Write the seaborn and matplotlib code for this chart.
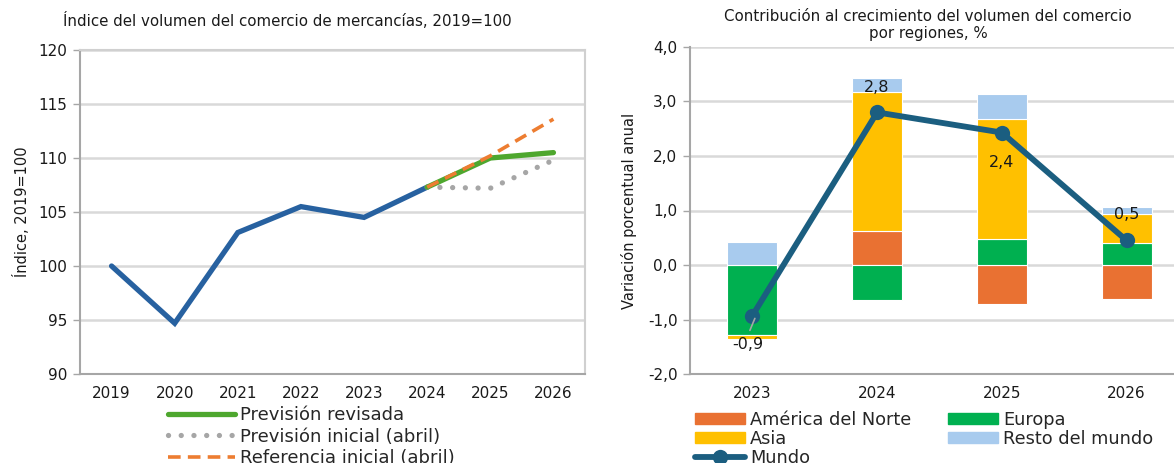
import matplotlib
matplotlib.use("Agg")
import matplotlib.pyplot as plt
import seaborn as sns
import numpy as np
import pandas as pd
from matplotlib.lines import Line2D
from matplotlib.patches import Patch
from matplotlib.ticker import FuncFormatter

# ---------------- data ----------------
years_left = ["2019", "2020", "2021", "2022", "2023", "2024", "2025", "2026"]
historico = [100.0, 94.7, 103.1, 105.5, 104.5, 107.3]
prev_revisada = [107.3, 110.0, 110.5]
prev_inicial = [107.3, 107.2, 109.8]
ref_inicial = [107.3, 110.2, 113.6]

years_right = ["2023", "2024", "2025", "2026"]
america_norte = [0.0, 0.62, -0.71, -0.62]
europa = [-1.28, -0.65, 0.47, 0.41]
asia = [-0.07, 2.55, 2.20, 0.52]
resto = [0.42, 0.27, 0.47, 0.14]
mundo = [-0.93, 2.80, 2.43, 0.45]
mundo_labels = ["-0,9", "2,8", "2,4", "0,5"]

# ---------------- style ----------------
sns.set_theme(style="white")
plt.rcParams["font.family"] = ["DejaVu Sans"]

fig = plt.figure(figsize=(11.74, 4.63), dpi=100)
axL = fig.add_axes([80/1174, 1-374/463, 505/1174, 324/463])
axR = fig.add_axes([690/1174, 1-374/463, 484/1174, 327/463])

grid_c = "#D9D9D9"
spine_c = "#A6A6A6"

# ---------------- left chart ----------------
xl = np.arange(len(years_left))
dfh = pd.DataFrame({"x": xl[:6], "y": historico})
sns.lineplot(data=dfh, x="x", y="y", ax=axL, color="#2761A0", lw=3.8,
             solid_capstyle="round", solid_joinstyle="miter")
dfi = pd.DataFrame({"x": xl[5:], "y": prev_inicial})
sns.lineplot(data=dfi, x="x", y="y", ax=axL, color="#A6A6A6", lw=3.8,
             linestyle=(0, (0.01, 2.4)), dash_capstyle="round")
dfr = pd.DataFrame({"x": xl[5:], "y": prev_revisada})
sns.lineplot(data=dfr, x="x", y="y", ax=axL, color="#4EA72E", lw=3.8,
             solid_capstyle="round")
dfe = pd.DataFrame({"x": xl[5:], "y": ref_inicial})
sns.lineplot(data=dfe, x="x", y="y", ax=axL, color="#ED7D31", lw=2.6,
             linestyle=(0, (3.5, 2.0)))

axL.set_xlim(-0.5, 7.5)
axL.set_ylim(90, 120)
axL.set_yticks(range(90, 121, 5))
axL.set_xticks(xl)
axL.set_xticklabels(years_left)
axL.set_xlabel("")
axL.set_ylabel("Índice, 2019=100", fontsize=10.5, color="#1a1a1a", labelpad=6)
axL.grid(axis="y", color=grid_c, lw=1.8)
axL.set_axisbelow(True)
for s in axL.spines.values():
    s.set_color("#D0D0D0")
    s.set_linewidth(1.5)
axL.spines["left"].set_color(spine_c)
axL.spines["bottom"].set_color(spine_c)
axL.tick_params(axis="y", length=5, width=1, color=spine_c, labelsize=11, pad=4,
                labelcolor="#1a1a1a", left=True)
axL.tick_params(axis="x", length=0, labelsize=11, pad=9, labelcolor="#1a1a1a")

fig.text(287/1174, 1-21/463, "Índice del volumen del comercio de mercancías, 2019=100",
         ha="center", va="center", fontsize=10.8, color="#1a1a1a")

legL = [Line2D([0], [0], color="#4EA72E", lw=3.8, solid_capstyle="round"),
        Line2D([0], [0], color="#A6A6A6", lw=3.8, linestyle=(0, (0.01, 2.4)),
               dash_capstyle="round"),
        Line2D([0], [0], color="#ED7D31", lw=2.6, linestyle=(0, (3.5, 2.0)))]
fig.legend(legL, ["Previsión revisada", "Previsión inicial (abril)", "Referencia inicial (abril)"],
           loc="upper left", bbox_to_anchor=(168/1174, 1-406/463), frameon=False,
           fontsize=13, handlelength=3.7, handletextpad=0.3, labelspacing=0.2,
           borderpad=0, borderaxespad=0)

# ---------------- right chart ----------------
series = [("América del Norte", america_norte, "#E97132"),
          ("Europa", europa, "#00B050"),
          ("Asia", asia, "#FFC000"),
          ("Resto del mundo", resto, "#A8CBEE")]
pos_base = np.zeros(4)
neg_base = np.zeros(4)
for name, vals, col in series:
    vals = np.array(vals)
    bottoms = np.where(vals >= 0, pos_base, neg_base)
    df = pd.DataFrame({"year": years_right, "v": vals})
    sns.barplot(data=df, x="year", y="v", ax=axR, color=col, width=0.4,
                bottom=bottoms, edgecolor="white", linewidth=0.8, saturation=1)
    pos_base = pos_base + np.where(vals > 0, vals, 0)
    neg_base = neg_base + np.where(vals < 0, vals, 0)

xr = np.arange(4)
dfm = pd.DataFrame({"x": xr, "y": mundo})
sns.lineplot(data=dfm, x="x", y="y", ax=axR, color="#1B5E80", lw=4.2,
             marker="o", markersize=11, markeredgewidth=0)

# leader line for first label
axR.plot([xr[0] - 0.02, xr[0] + 0.02], [-1.2, -0.98], color="#A6A6A6", lw=1.2, zorder=6)
offsets = [(-0.04, -1.45), (0.0, 3.25), (0.0, 1.88), (0.0, 0.92)]
for i, lab in enumerate(mundo_labels):
    axR.text(xr[i] + offsets[i][0], offsets[i][1], lab, ha="center", va="center",
             fontsize=11.5, color="#1a1a1a", zorder=7)

axR.set_xlim(-0.5, 3.38)
axR.set_ylim(-2.0, 4.0)
axR.set_yticks(np.arange(-2, 4.01, 1))
axR.yaxis.set_major_formatter(FuncFormatter(lambda v, p: f"{v:.1f}".replace(".", ",")))
axR.set_xlabel("")
axR.set_ylabel("Variación porcentual anual", fontsize=10.5, color="#1a1a1a", labelpad=8)
axR.grid(axis="y", color=grid_c, lw=1.8)
axR.set_axisbelow(True)
axR.spines["top"].set_visible(False)
axR.spines["right"].set_visible(False)
axR.spines["left"].set_color(spine_c)
axR.spines["bottom"].set_color(spine_c)
axR.spines["left"].set_linewidth(1.5)
axR.spines["bottom"].set_linewidth(1.5)
axR.tick_params(axis="y", length=5, width=1, color=spine_c, labelsize=11, pad=4,
                labelcolor="#1a1a1a", left=True)
axR.tick_params(axis="x", length=0, labelsize=11, pad=9, labelcolor="#1a1a1a")

fig.text(928/1174, 1-25/463, "Contribución al crecimiento del volumen del comercio\npor regiones, %",
         ha="center", va="center", fontsize=10.8, color="#1a1a1a", linespacing=1.1)

hR = [Patch(color="#E97132"), Patch(color="#FFC000"),
      Line2D([0], [0], color="#1B5E80", lw=4.2, marker="o", markersize=11, markeredgewidth=0),
      Patch(color="#00B050"), Patch(color="#A8CBEE")]
lR = ["América del Norte", "Asia", "Mundo", "Europa", "Resto del mundo"]
fig.legend(hR, lR, loc="upper left", bbox_to_anchor=(695/1174, 1-411/463), frameon=False,
           ncol=2, fontsize=12.8, handlelength=2.8, handleheight=0.6, handletextpad=0.3,
           labelspacing=0.05, columnspacing=2.05, borderpad=0, borderaxespad=0)

fig.savefig("out.png", dpi=100)
